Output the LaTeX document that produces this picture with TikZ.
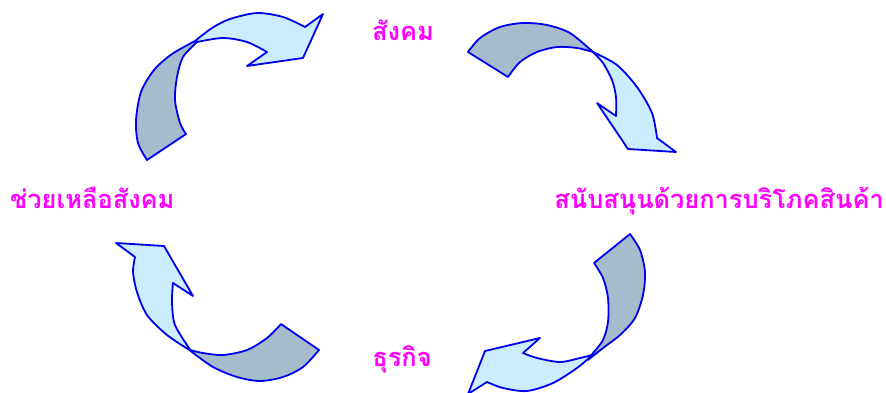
\documentclass[tikz,border=0pt]{standalone}
\usepackage{fontspec}
\newfontfamily\thaifont[Script=Thai]{Loma}
\definecolor{darkfill}{RGB}{165,188,204}
\definecolor{lightfill}{RGB}{204,236,255}
\definecolor{edge}{RGB}{0,0,240}
\definecolor{labelcol}{RGB}{255,0,255}
\tikzset{
  darkpart/.style={fill=darkfill, draw=edge, line width=1.8pt, line join=round},
  lightpart/.style={fill=lightfill, draw=edge, line width=1.8pt, line join=round},
  thailabel/.style={text=labelcol, font=\thaifont\bfseries\fontsize{25.4}{30}\selectfont, inner sep=0pt}
}
\begin{document}
\begin{tikzpicture}[x=1pt,y=-1pt]
\useasboundingbox (0,0) rectangle (886,392);
% arrow 1 (top left)
\path[darkpart] plot[smooth] coordinates {(147,160)(138,143)(136,120)(141,92)(154,70)(172,54)(195,41)}
  -- plot[smooth] coordinates {(197,42)(183,57)(177,77)(175,100)(180,123)(186,134)} -- cycle;
\path[lightpart] plot[smooth] coordinates {(195,41)(212,28)(230,19)(257,13)(283,17)(305,27)}
  -- (323,14) -- (303,58) -- (247,66)
  -- plot[smooth] coordinates {(267,52)(247,42)(223,38)(197,42)} -- cycle;
% arrow 2 (top right)
\path[darkpart] plot[smooth] coordinates {(468,52)(480,38)(500,27)(523,23)(547,25)(570,33)(593,52)}
  -- plot[smooth] coordinates {(593,52)(577,48)(557,47)(537,52)(520,62)(508,77)} -- cycle;
\path[lightpart] plot[smooth] coordinates {(593,52)(617,65)(637,87)(652,113)(657,138)}
  -- (676,152) -- (628,149) -- (597,103)
  -- plot[smooth] coordinates {(616,116)(616,97)(612,80)(603,63)(593,52)} -- cycle;
% arrow 3 (bottom right)
\path[darkpart] plot[smooth] coordinates {(630,234)(640,250)(645,272)(643,295)(635,318)(620,335)(603,348)(588,360)}
  -- plot[smooth] coordinates {(593,353)(603,340)(608,322)(608,298)(603,278)(594,263)} -- cycle;
\path[lightpart] plot[smooth] coordinates {(590,357)(577,368)(553,383)(527,391)(503,388)(487,382)}
  -- (468,394) -- (485,351) -- (540,338)
  -- plot[smooth] coordinates {(523,353)(537,358)(560,362)(580,358)(592,355)} -- cycle;
% arrow 4 (bottom left)
\path[darkpart] plot[smooth] coordinates {(319,350)(303,367)(283,377)(260,381)(237,377)(213,367)(192,352)}
  -- plot[smooth] coordinates {(190,350)(203,353)(223,355)(247,350)(267,338)(281,324)} -- cycle;
\path[lightpart] plot[smooth] coordinates {(191,351)(167,335)(147,315)(137,292)(133,272)(135,257)}
  -- (116,243) -- (164,246) -- (193,296)
  -- plot[smooth] coordinates {(173,283)(172,302)(175,325)(191,351)} -- cycle;
% labels
\node[thailabel, anchor=base] (top) at (403,40) {สังคม};
\node[thailabel, anchor=base west] (left) at (10,208) {ช่วยเหลือสังคม};
\node[thailabel, anchor=base east] (right) at (884,208) {สนับสนุนด้วยการบริโภคสินค้า};
\node[thailabel, anchor=base] (bottom) at (402,366) {ธุรกิจ};
\end{tikzpicture}
\end{document}
